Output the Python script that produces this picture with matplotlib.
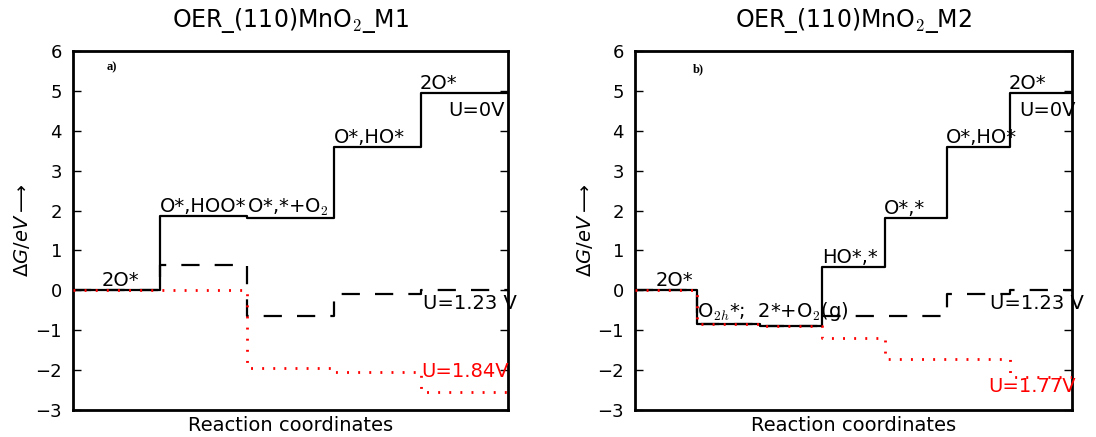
import matplotlib
matplotlib.use("Agg")
import matplotlib.pyplot as plt

# panel a) : 5 states
g_a_0 = [0.0, 1.86, 1.82, 3.60, 4.94]
g_a_123 = [0.0, 0.63, -0.64, -0.10, 0.0]
g_a_184 = [0.0, 0.0, -1.95, -2.05, -2.56]
lab_a = ["2O*", "O*,HOO*", "O*,*+O$_2$", "O*,HO*", "2O*"]
lab_a_x = [0.33, 1.0, 2.0, 3.0, 3.98]

# panel b) : 7 states
g_b_0 = [0.0, -0.84, -0.89, 0.59, 1.82, 3.60, 4.94]
g_b_123 = [0.0, -0.84, -0.89, -0.64, -0.64, -0.10, 0.0]
g_b_177 = [0.0, -0.84, -0.89, -1.19, -1.73, -1.73, -2.18]
lab_b = ["2O*", "O$_{2h}$*;  2*+O$_2$(g)", "HO*,*", "O*,*", "O*,HO*", "2O*"]
lab_b_x = [0.33, 1.0, 2.99, 3.99, 4.98, 5.98]
lab_b_y = [0.0, -0.82, 0.59, 1.82, 3.60, 4.94]

titles = ["OER_(110)MnO$_2$_M1", "OER_(110)MnO$_2$_M2"]

fig = plt.figure(figsize=(10.96, 4.37), dpi=100)
ax1 = fig.add_axes([0.0666, 0.0618, 0.3969, 0.8215])
ax2 = fig.add_axes([0.5794, 0.0618, 0.3987, 0.8215])


def steps(ax, vals, **kw):
    x = list(range(len(vals) + 1))
    y = list(vals) + [vals[-1]]
    ax.step(x, y, where="post", **kw)


def style(ax, n, title):
    ax.set_xlim(0, n)
    ax.set_ylim(-3, 6)
    ax.set_xticks([])
    ax.set_yticks(range(-3, 7))
    ax.tick_params(axis="y", direction="in", length=6, width=1, right=True,
                   labelsize=13, pad=8)
    for s in ax.spines.values():
        s.set_linewidth(2)
    ax.set_xlabel("Reaction coordinates", fontsize=14, labelpad=4)
    ax.set_ylabel(r"$\Delta G/eV\longrightarrow$", fontsize=14, labelpad=2)
    ax.set_title(title, fontsize=17, pad=17, math_fontfamily="cm")


# a)
steps(ax1, g_a_0, color="black", lw=1.6, zorder=2)
steps(ax1, g_a_123, color="black", lw=1.6, dashes=(8.2, 6.8), zorder=3)
steps(ax1, g_a_184, color="red", lw=2, dashes=(0.7, 3.3), zorder=4)
for t, x, y in zip(lab_a, lab_a_x, g_a_0):
    ax1.text(x, y, t, fontsize=14, va="bottom", ha="left", math_fontfamily="cm")
ax1.text(4.31, 4.5, "U=0V", fontsize=14, va="center")
ax1.text(4.02, -0.33, "U=1.23 V", fontsize=14, va="center")
ax1.text(4.0, -2.04, "U=1.84V", fontsize=14, va="center", color="red")
ax1.text(0.39, 5.58, "a)", fontsize=9, fontweight="bold",
         family="Liberation Serif", va="center")
style(ax1, 5, titles[0])

# b)
steps(ax2, g_b_0, color="black", lw=1.6, zorder=2)
steps(ax2, g_b_123, color="black", lw=1.6, dashes=(8.2, 6.8), zorder=3)
steps(ax2, g_b_177, color="red", lw=2, dashes=(0.7, 3.3), zorder=4)
for t, x, y in zip(lab_b, lab_b_x, lab_b_y):
    ax2.text(x, y, t, fontsize=14, va="bottom", ha="left", math_fontfamily="cm")
ax2.text(6.16, 4.5, "U=0V", fontsize=14, va="center")
ax2.text(5.68, -0.33, "U=1.23 V", fontsize=14, va="center")
ax2.text(5.66, -2.41, "U=1.77V", fontsize=14, va="center", color="red")
ax2.text(0.93, 5.55, "b)", fontsize=9, fontweight="bold",
         family="Liberation Serif", va="center")
style(ax2, 7, titles[1])

fig.savefig("out.png", dpi=100)
